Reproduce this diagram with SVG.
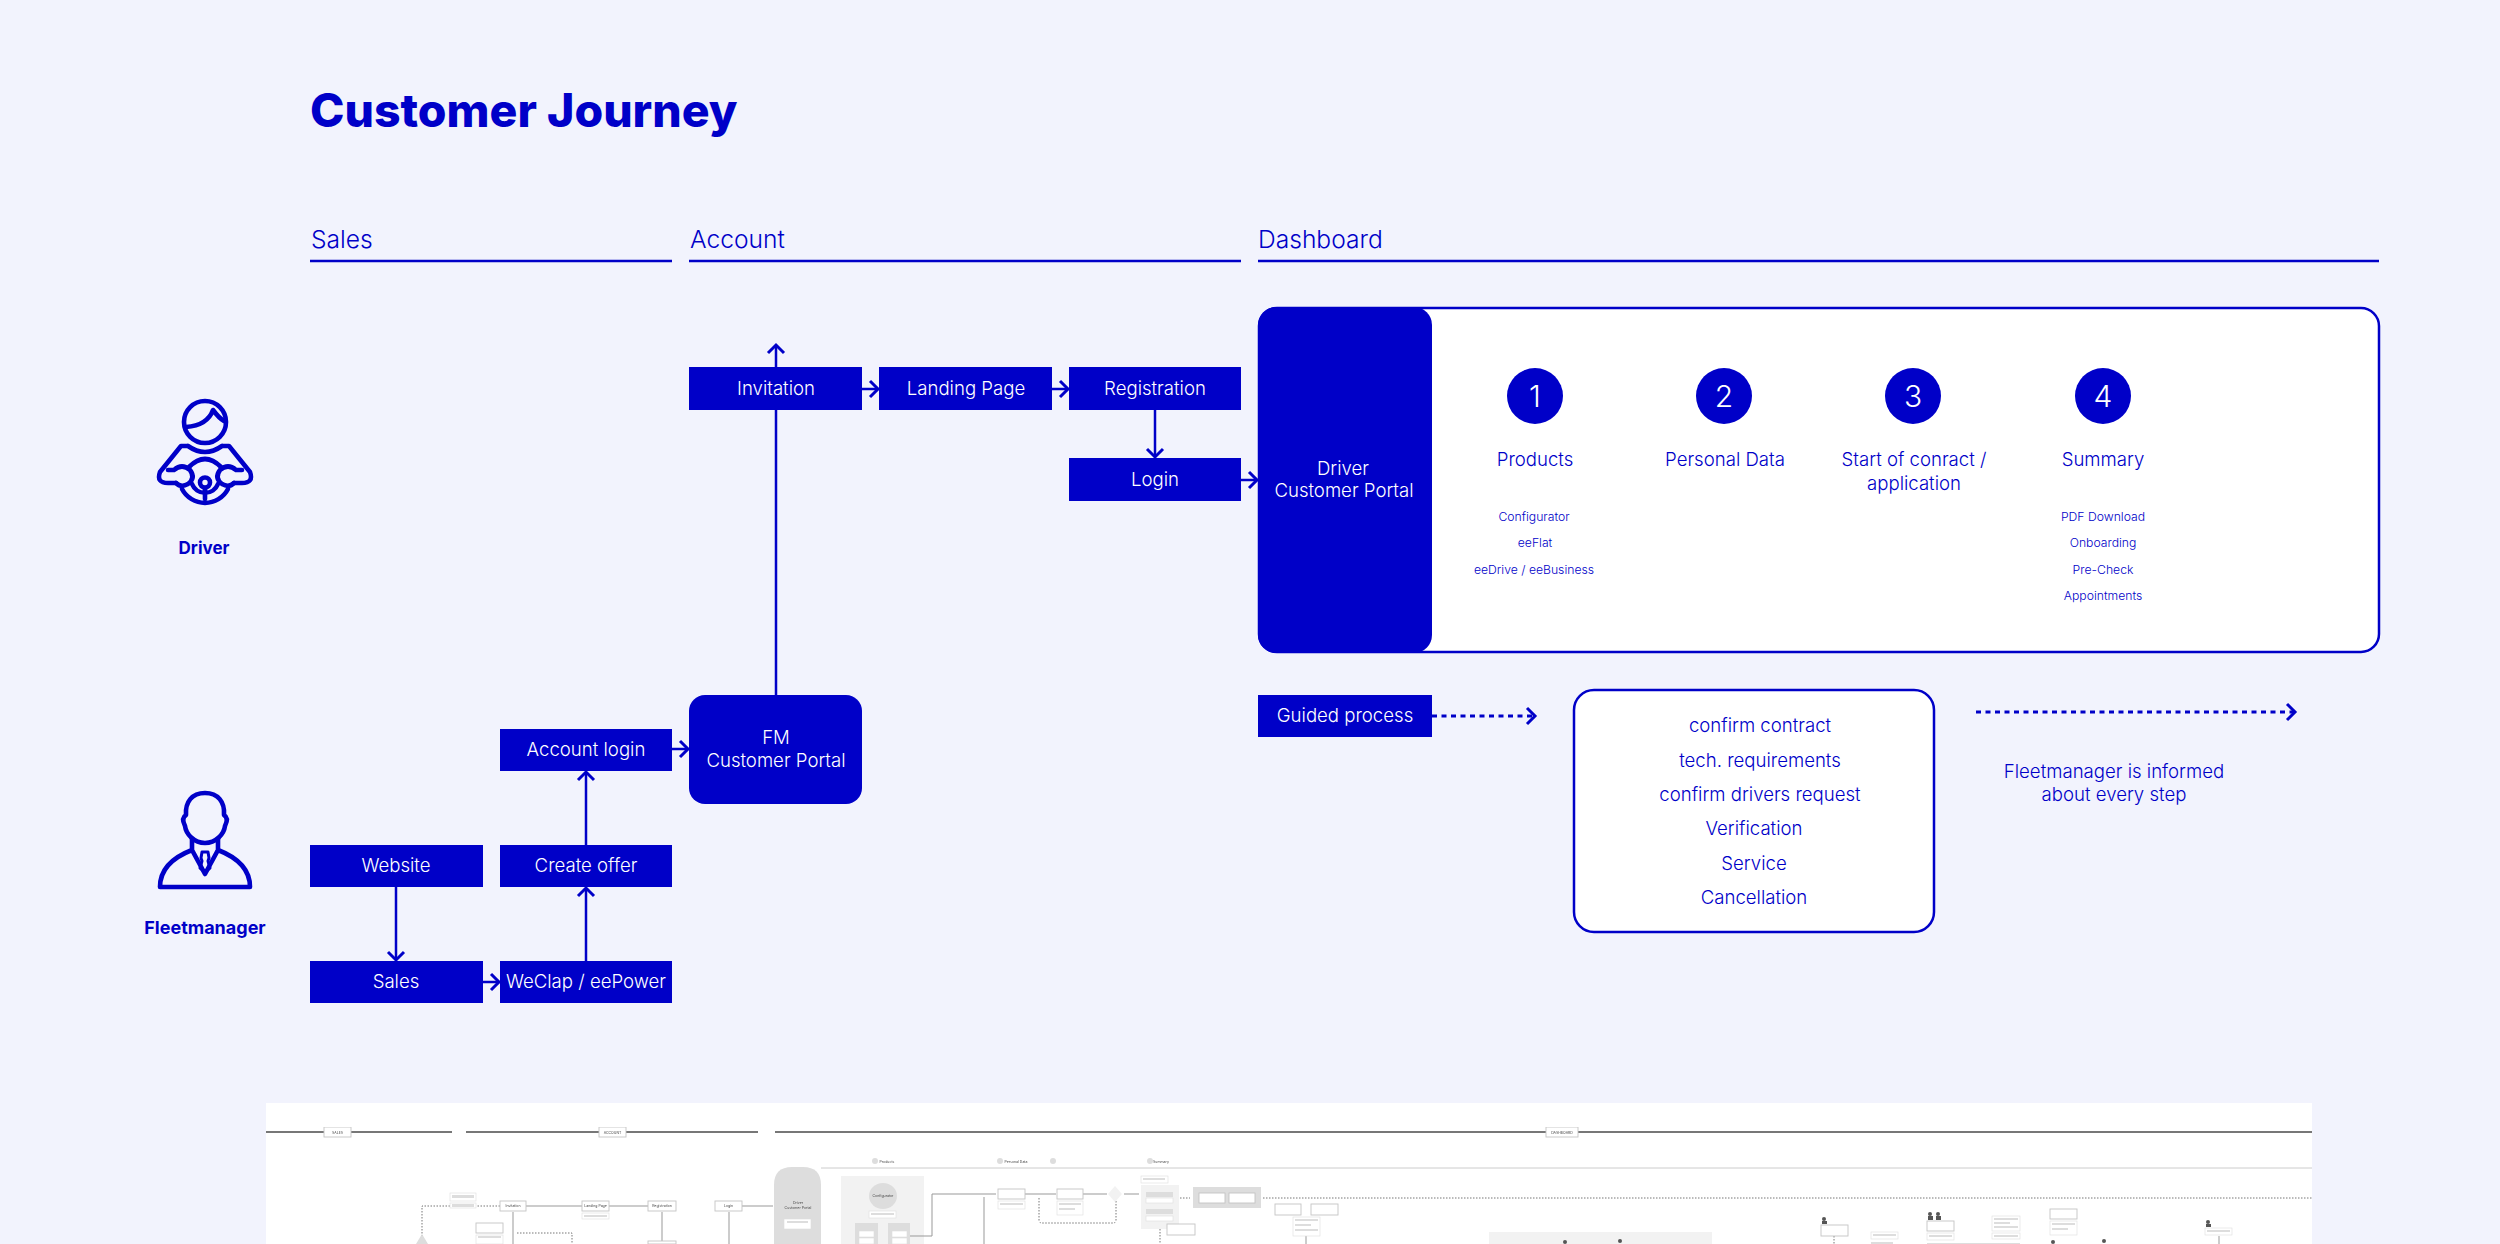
<svg xmlns="http://www.w3.org/2000/svg" width="2500" height="1244" viewBox="0 0 2500 1244">
<style>
text{font-family:"Inter","Liberation Sans",sans-serif;text-anchor:middle}
.b{fill:#0000c8}
.w{fill:#fff;font-size:18.6px;font-weight:300}
.t{fill:#0000c8;font-size:18.6px;font-weight:300}
.s{fill:#0000c8;font-size:12.2px;font-weight:300}
.h{fill:#0000c8;font-size:24.600px;font-weight:300;text-anchor:start}
.r{fill:none;stroke:#0000c8;stroke-width:2.5}
.c{fill:none;stroke:#0000c8;stroke-width:2.5;marker-end:url(#a)}
.d{stroke-width:3;stroke-dasharray:5 4.500}
.i{fill:none;stroke:#0000c8;stroke-width:4.600;stroke-linecap:round;stroke-linejoin:round}
.tb{fill:#fff;stroke:#c4c4c4;stroke-width:.9}
.tn{fill:#fff;stroke:#ddd;stroke-width:.6}
.tg{fill:#ddd}
.tp{fill:#f2f2f2}
.tl{fill:none;stroke:#999;stroke-width:1}
.tk{fill:none;stroke:#777;stroke-width:1;stroke-dasharray:1.5 1.5}
.tt{fill:#444;font-size:3.5px}
</style>
<defs>
<marker id="a" markerUnits="userSpaceOnUse" markerWidth="20" markerHeight="24" refX="12" refY="12" orient="auto"><path d="M4 4L12 12L4 20" fill="none" stroke="#0000c8" stroke-width="3"/></marker>
<filter id="bl" x="0" y="0" width="1" height="1"><feGaussianBlur stdDeviation="0.7"/></filter>
</defs>
<rect width="2500" height="1244" fill="#f2f3fd"/>
<text x="310" y="127" style="font-size:46.400px;font-weight:800;text-anchor:start;fill:#0000c8">Customer Journey</text>

<g id="headers">
<text class="h" x="311" y="248">Sales</text><path class="r" d="M310 261H672"/>
<text class="h" x="690" y="248">Account</text><path class="r" d="M689 261H1241"/>
<text class="h" x="1258" y="248">Dashboard</text><path class="r" d="M1258 261H2379"/>
</g>

<g id="driver">
<circle class="i" cx="205" cy="422" r="21"/>
<path class="i" d="M186 427C200 426 209 421 213 410C216 414 219 418 224 421"/>
<path class="i" d="M188 446H181L160 472Q156 483 168 483H176M222 446H229L250 472Q254 483 242 483H234M188 446Q205 458 222 446"/>
<path class="i" d="M168 470H174Q182 463 190 470Q196 478 188 484Q181 488 176 483M242 470H236Q228 463 220 470Q214 478 222 484Q229 488 234 483"/>
<path class="i" d="M189 467Q205 451 221 467M182 489A26 26 0 0 0 228 489M192 484A14 14 0 0 0 218 484"/>
<circle class="i" cx="205" cy="482.500" r="5"/><path class="i" d="M205 488V499"/>
<text x="204" y="554" style="font-size:17px;font-weight:700;fill:#0000c8">Driver</text>
</g>
<g id="fleetmanager">
<path class="i" d="M186 815C185 802 192 793 205 793C218 793 225 802 224 815Q229 818 225 826C224 834 216 843 205 843C194 843 186 834 185 826Q181 818 186 815Z"/>
<path class="i" d="M192 839V850C174 857 160 868 160 887H250C250 868 236 857 218 850V839M192 850L205 874L218 850"/>
<path class="i" d="M202 852H208L209 858L208 861L210 868L205 872L200 868L202 861L201 858Z" style="stroke-width:3"/>
<text x="205" y="934" style="font-size:18px;font-weight:700;fill:#0000c8">Fleetmanager</text>
</g>

<g id="connectors">
<path class="c" d="M776 695V345"/>
<path class="c" d="M862 389H878"/>
<path class="c" d="M1052 389H1068"/>
<path class="c" d="M1155 410V457"/>
<path class="c" d="M1241 480H1257"/>
<path class="c" d="M396 887V960"/>
<path class="c" d="M483 982H499"/>
<path class="c" d="M586 961V888"/>
<path class="c" d="M586 845V772"/>
<path class="c" d="M672 749H688"/>
<path class="c d" d="M1432 716H1535"/>
<path class="c d" d="M1976 712H2295"/>
</g>

<g id="n-website"><rect class="b" x="310" y="845" width="173" height="42"/><text class="w" x="396" y="872">Website</text></g>
<g id="n-sales"><rect class="b" x="310" y="961" width="173" height="42"/><text class="w" x="396" y="988">Sales</text></g>
<g id="n-weclap"><rect class="b" x="500" y="961" width="172" height="42"/><text class="w" x="586" y="988">WeClap / eePower</text></g>
<g id="n-offer"><rect class="b" x="500" y="845" width="172" height="42"/><text class="w" x="586" y="872">Create offer</text></g>
<g id="n-acclogin"><rect class="b" x="500" y="729" width="172" height="42"/><text class="w" x="586" y="756">Account login</text></g>
<g id="n-fm"><rect class="b" x="689" y="695" width="173" height="109" rx="16"/><text class="w" x="776" y="744">FM</text><text class="w" x="776" y="767">Customer Portal</text></g>
<g id="n-invitation"><rect class="b" x="689" y="367" width="173" height="43"/><text class="w" x="776" y="395">Invitation</text></g>
<g id="n-landing"><rect class="b" x="879" y="367" width="173" height="43"/><text class="w" x="966" y="395">Landing Page</text></g>
<g id="n-registration"><rect class="b" x="1069" y="367" width="172" height="43"/><text class="w" x="1155" y="395">Registration</text></g>
<g id="n-login"><rect class="b" x="1069" y="458" width="172" height="43"/><text class="w" x="1155" y="486">Login</text></g>

<g id="n-portal">
<rect x="1259" y="308" width="1120" height="344" rx="18" fill="#fff" stroke="#0000c8" stroke-width="2.5"/>
<rect class="b" x="1258" y="307" width="174" height="346" rx="18"/>
<text class="w" x="1343" y="475">Driver</text><text class="w" x="1344" y="497">Customer Portal</text>
</g>
<g id="step1"><circle class="b" cx="1535" cy="396" r="28"/><text x="1535" y="407" style="font-size:30px;font-weight:300;fill:#fff">1</text><text class="t" x="1535" y="466">Products</text>
<text class="s" x="1534" y="521">Configurator</text><text class="s" x="1535" y="547">eeFlat</text><text class="s" x="1534" y="574">eeDrive / eeBusiness</text></g>
<g id="step2"><circle class="b" cx="1724" cy="396" r="28"/><text x="1724" y="407" style="font-size:30px;font-weight:300;fill:#fff">2</text><text class="t" x="1725" y="466">Personal Data</text></g>
<g id="step3"><circle class="b" cx="1913" cy="396" r="28"/><text x="1913" y="407" style="font-size:30px;font-weight:300;fill:#fff">3</text><text class="t" x="1914" y="466">Start of conract /</text><text class="t" x="1914" y="490">application</text></g>
<g id="step4"><circle class="b" cx="2103" cy="396" r="28"/><text x="2103" y="407" style="font-size:30px;font-weight:300;fill:#fff">4</text><text class="t" x="2103" y="466">Summary</text>
<text class="s" x="2103" y="521">PDF Download</text><text class="s" x="2103" y="547">Onboarding</text><text class="s" x="2103" y="574">Pre-Check</text><text class="s" x="2103" y="600">Appointments</text></g>

<g id="n-guided"><rect class="b" x="1258" y="695" width="174" height="42"/><text class="w" x="1345" y="722">Guided process</text></g>
<g id="n-process">
<rect x="1574" y="690" width="360" height="242" rx="20" fill="#fff" stroke="#0000c8" stroke-width="2.500"/>
<text class="t" x="1760" y="732">confirm contract</text><text class="t" x="1760" y="767">tech. requirements</text><text class="t" x="1760" y="801">confirm drivers request</text>
<text class="t" x="1754" y="835">Verification</text><text class="t" x="1754" y="870">Service</text><text class="t" x="1754" y="904">Cancellation</text>
</g>
<g id="n-note"><text class="t" x="2114" y="778">Fleetmanager is informed</text><text class="t" x="2114" y="801">about every step</text></g>

<g id="thumbnail">
<rect x="266" y="1103" width="2046" height="141" fill="#fff"/>
<g filter="url(#bl)">
<path class="tl" style="stroke:#777;stroke-width:1.800" d="M266 1132H452M466 1132H758M775 1132H2312"/>
<path class="tl" style="stroke:#ccc" d="M821 1168H2312"/>
<rect class="tb" x="324" y="1127" width="27" height="10"/><text class="tt" x="337.500" y="1133.500">SALES</text>
<rect class="tb" x="599" y="1127" width="27" height="10"/><text class="tt" x="612.500" y="1133.500">ACCOUNT</text>
<rect class="tb" x="1546" y="1127" width="32" height="10"/><text class="tt" x="1562" y="1133.500">DASHBOARD</text>
<circle class="tg" cx="875" cy="1161" r="3"/><text class="tt" x="887" y="1162.500">Products</text>
<circle class="tg" cx="1000" cy="1161" r="3"/><text class="tt" x="1016" y="1162.500">Personal Data</text>
<circle class="tg" cx="1053" cy="1161" r="3"/>
<circle class="tg" cx="1150" cy="1161" r="3"/><text class="tt" x="1161" y="1162.500">Summary</text>
<path class="tg" d="M774 1244V1185Q774 1167 792 1167H803Q821 1167 821 1185V1244Z"/>
<text class="tt" x="798" y="1204">Driver</text><text class="tt" x="798" y="1209">Customer Portal</text>
<rect class="tn" x="784" y="1219" width="27" height="10"/><rect class="tg" x="787" y="1221" width="21" height="2"/>
<rect class="tp" x="841" y="1176" width="83" height="68"/>
<ellipse class="tg" cx="883" cy="1196" rx="14" ry="13"/><text class="tt" x="883" y="1197">Configurator</text>
<rect class="tn" x="869" y="1211" width="27" height="7"/><rect class="tg" x="871" y="1213" width="23" height="2"/>
<rect class="tg" x="855" y="1223" width="23" height="21"/><rect class="tg" x="888" y="1223" width="22" height="21"/>
<rect class="tn" x="859" y="1231" width="15" height="6"/><rect class="tn" x="859" y="1238" width="15" height="6"/><rect class="tn" x="892" y="1231" width="15" height="6"/><rect class="tn" x="892" y="1238" width="15" height="6"/>
<path class="tl" d="M910 1236H932V1194H996M984 1197V1244M526 1206H582M609 1206H648M742 1206H773M1025 1194H1056M1083 1194H1107M1124 1194H1139M513 1212V1244M662 1212V1244M729 1212V1244M1306 1236V1244M2219 1236V1244"/>
<path class="tk" d="M500 1206H477M450 1206H422V1244M1116 1201V1220Q1116 1223 1113 1223H1042Q1039 1223 1039 1220V1197M1160 1229V1244M1174 1198H1190M1263 1198H2312M1834 1236V1244M517 1233H572V1244"/>
<rect class="tb" x="500" y="1201" width="26" height="10"/><text class="tt" x="513" y="1207">Invitation</text>
<rect class="tb" x="582" y="1201" width="27" height="10"/><text class="tt" x="595.500" y="1207">Landing Page</text>
<rect class="tb" x="648" y="1201" width="28" height="10"/><text class="tt" x="662" y="1207">Registration</text>
<rect class="tb" x="715" y="1201" width="27" height="10"/><text class="tt" x="728.500" y="1207">Login</text>
<rect class="tn" x="582" y="1213" width="27" height="6"/><rect class="tg" x="584" y="1215" width="23" height="2"/>
<rect class="tn" x="450" y="1193" width="26" height="8"/><rect class="tg" x="452" y="1195" width="22" height="3"/>
<rect class="tn" x="450" y="1203" width="26" height="5"/><rect class="tg" x="452" y="1204" width="22" height="3"/>
<rect class="tb" x="476" y="1223" width="27" height="10"/>
<rect class="tn" x="476" y="1235" width="27" height="9"/><rect class="tg" x="478" y="1236" width="23" height="2"/>
<rect class="tb" x="648" y="1241" width="28" height="3"/>
<path class="tg" d="M422 1234L428 1244H416Z"/>
<rect class="tb" x="998" y="1189" width="27" height="10"/><rect class="tn" x="998" y="1201" width="27" height="8"/><rect class="tg" x="1000" y="1203" width="23" height="2"/>
<rect class="tb" x="1057" y="1189" width="26" height="10"/><rect class="tn" x="1057" y="1201" width="26" height="14"/><rect class="tg" x="1059" y="1203" width="22" height="2"/><rect class="tg" x="1059" y="1208" width="16" height="2"/>
<path class="tp" d="M1115 1186L1122 1194L1115 1202L1108 1194Z"/>
<rect class="tp" x="1141" y="1185" width="38" height="44"/>
<rect class="tn" x="1141" y="1176" width="27" height="7"/><rect class="tg" x="1143" y="1178" width="22" height="2"/>
<rect class="tg" x="1146" y="1192" width="27" height="5"/><rect class="tn" x="1146" y="1198" width="27" height="5"/>
<rect class="tg" x="1146" y="1209" width="27" height="5"/><rect class="tn" x="1146" y="1216" width="27" height="5"/>
<rect class="tb" x="1167" y="1224" width="28" height="11"/>
<rect class="tg" x="1193" y="1187" width="68" height="21"/><rect class="tb" x="1199" y="1193" width="26" height="10"/><rect class="tb" x="1229" y="1193" width="26" height="10"/>
<rect class="tb" x="1275" y="1204" width="26" height="11"/><rect class="tb" x="1311" y="1204" width="27" height="11"/>
<rect class="tn" x="1293" y="1217" width="27" height="19"/><rect class="tg" x="1295" y="1219" width="23" height="2"/><rect class="tg" x="1295" y="1224" width="16" height="2"/><rect class="tg" x="1295" y="1229" width="23" height="2"/>
<rect class="tp" x="1489" y="1232" width="223" height="12"/>
<rect class="tb" x="1821" y="1225" width="27" height="11"/>
<rect class="tn" x="1871" y="1232" width="27" height="7"/><rect class="tg" x="1873" y="1234" width="23" height="2"/><rect class="tg" x="1871" y="1242" width="22" height="2"/>
<rect class="tb" x="1927" y="1221" width="27" height="10"/><rect class="tn" x="1927" y="1233" width="27" height="7"/><rect class="tg" x="1929" y="1235" width="23" height="2"/><rect class="tg" x="1927" y="1243" width="93" height="1"/>
<rect class="tn" x="1992" y="1216" width="28" height="15"/><rect class="tg" x="1994" y="1218" width="24" height="2"/><rect class="tg" x="1994" y="1222" width="16" height="2"/><rect class="tg" x="1994" y="1226" width="24" height="2"/>
<rect class="tn" x="1992" y="1233" width="28" height="6"/><rect class="tg" x="1994" y="1235" width="24" height="2"/>
<rect class="tb" x="2050" y="1209" width="27" height="10"/><rect class="tn" x="2050" y="1221" width="27" height="14"/><rect class="tg" x="2052" y="1223" width="23" height="2"/><rect class="tg" x="2052" y="1228" width="16" height="2"/>
<rect class="tn" x="2205" y="1228" width="27" height="7"/><rect class="tg" x="2207" y="1230" width="23" height="2"/>
<g fill="#555"><circle cx="1565" cy="1242" r="2"/><circle cx="1620" cy="1241" r="2"/><circle cx="1824" cy="1219" r="2"/><rect x="1822" y="1221" width="5" height="3"/><circle cx="1930" cy="1214" r="2"/><circle cx="1938" cy="1214" r="2"/><rect x="1928" y="1216" width="5" height="4"/><rect x="1936" y="1216" width="5" height="4"/><circle cx="2053" cy="1242" r="2"/><circle cx="2104" cy="1241" r="2"/><circle cx="2208" cy="1222" r="2"/><rect x="2206" y="1224" width="5" height="3"/></g>
</g>
</g>
</svg>
